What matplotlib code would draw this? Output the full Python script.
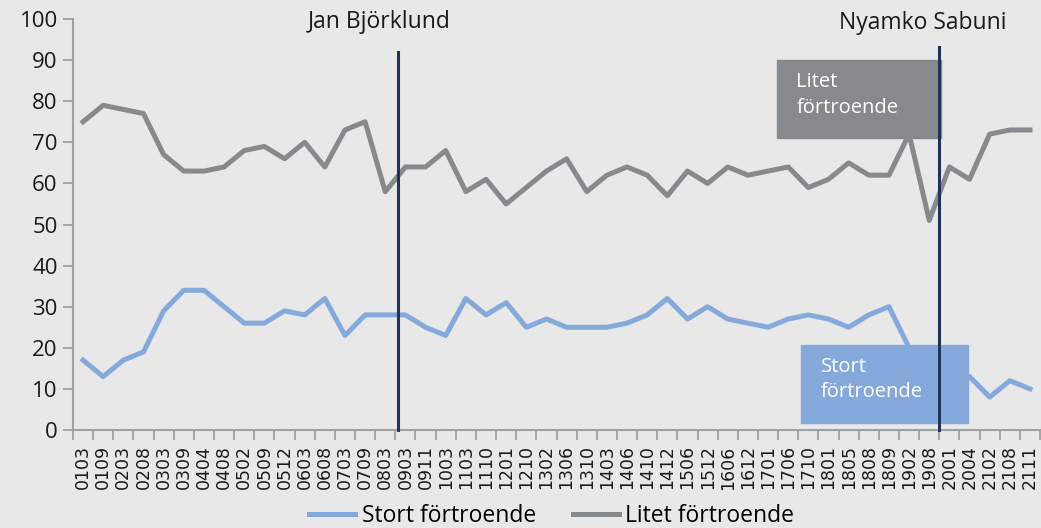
import matplotlib.pyplot as plt
from matplotlib.patches import Rectangle

# matningstillfallen (aamm)
labels = ["0103", "0109", "0203", "0208", "0303", "0309", "0404", "0408",
          "0502", "0509", "0512", "0603", "0608", "0703", "0709", "0803",
          "0903", "0911", "1003", "1103", "1110", "1201", "1210", "1302",
          "1306", "1310", "1403", "1406", "1410", "1412", "1506", "1512",
          "1606", "1612", "1701", "1706", "1710", "1801", "1805", "1808",
          "1809", "1902", "1908", "2001", "2004", "2102", "2108", "2111"]

stort = [17, 13, 17, 19, 29, 34, 34, 30, 26, 26, 29, 28, 32, 23, 28, 28,
         28, 25, 23, 32, 28, 31, 25, 27, 25, 25, 25, 26, 28, 32, 27, 30,
         27, 26, 25, 27, 28, 27, 25, 28, 30, 20, 17, 13, 13, 8, 12, 10]

litet = [75, 79, 78, 77, 67, 63, 63, 64, 68, 69, 66, 70, 64, 73, 75, 58,
         64, 64, 68, 58, 61, 55, 59, 63, 66, 58, 62, 64, 62, 57, 63, 60,
         64, 62, 63, 64, 59, 61, 65, 62, 62, 72, 51, 64, 61, 72, 73, 73]

BG = "#e8e8e8"
GRAY = "#878a8d"
BLUE = "#86a9dc"
NAVY = "#1f3558"

plt.rcParams['font.family'] = ['Open Sans', 'DejaVu Sans']

fig = plt.figure(figsize=(10.41, 5.28), dpi=100, facecolor=BG)
ax = fig.add_axes([0.0701, 0.1856, 0.929, 0.7784], facecolor=BG)

x = list(range(len(labels)))
ax.plot(x, stort, color=BLUE, lw=3.6, label="Stort förtroende", zorder=3)
ax.plot(x, litet, color=GRAY, lw=3.6, label="Litet förtroende", zorder=3)

# textrutor
ax.add_patch(Rectangle((34.45, 71.0), 8.13, 19.0, color=GRAY, zorder=4))
ax.text(35.4, 87.0, "Litet\nförtroende", color="white", fontsize=14.5,
        va="top", ha="left", linespacing=1.35, zorder=5)
ax.add_patch(Rectangle((35.63, 1.7), 8.29, 19.0, color=BLUE, zorder=4))
ax.text(36.6, 17.8, "Stort\nförtroende", color="white", fontsize=14.5,
        va="top", ha="left", linespacing=1.35, zorder=5)

# partiledarbyten
ax.plot([15.65, 15.65], [0, 92], color=NAVY, lw=2.2, zorder=6, clip_on=False)
ax.plot([42.5, 42.5], [0, 93.2], color=NAVY, lw=2.2, zorder=6, clip_on=False)
ax.text(14.7, 99.3, "Jan Björklund", fontsize=16.5, ha="center", va="center",
        color="#1a1a1a")
ax.text(41.7, 99.1, "Nyamko Sabuni", fontsize=16.5, ha="center", va="center",
        color="#1a1a1a")

ax.set_xlim(-0.5, len(labels) - 0.5)
ax.set_ylim(0, 100)
ax.set_yticks(range(0, 101, 10))
ax.tick_params(axis="y", labelsize=16, length=7, width=1.3, color="#a0a0a0",
               labelcolor="#1a1a1a", pad=4)

ax.set_xticks(x)
ax.set_xticklabels(labels, rotation=90, fontsize=12.5, family="DejaVu Sans",
                   color="#1a1a1a")
ax.tick_params(axis="x", length=0, pad=11)
ax.set_xticks([i - 0.5 for i in range(len(labels) + 1)], minor=True)
ax.tick_params(axis="x", which="minor", length=7, width=1.3, color="#a0a0a0")

for s in ["top", "right"]:
    ax.spines[s].set_visible(False)
for s in ["left", "bottom"]:
    ax.spines[s].set_color("#a0a0a0")
    ax.spines[s].set_linewidth(1.5)

fig.legend(loc="lower center", bbox_to_anchor=(0.53, -0.04), ncol=2,
           frameon=False, fontsize=16.5, handlelength=2.0, handletextpad=0.3,
           columnspacing=1.6)

plt.savefig("out.png", dpi=100, facecolor=BG)
